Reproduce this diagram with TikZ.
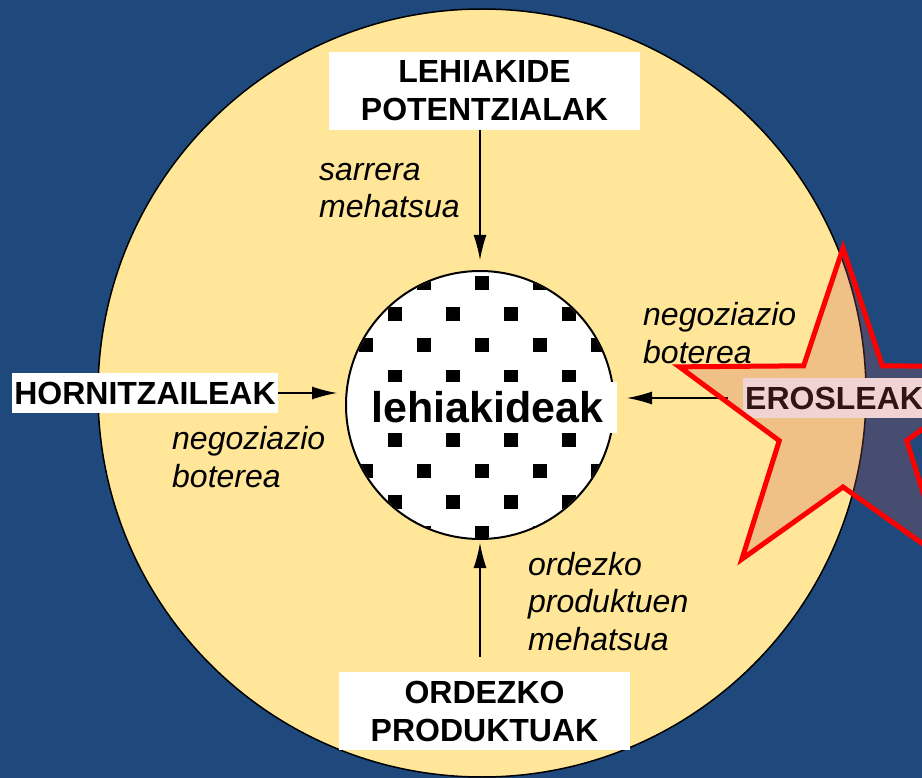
\documentclass[tikz,border=0pt]{standalone}
\usepackage{fontspec}
\setmainfont{Liberation Sans}
\usetikzlibrary{arrows.meta}
\definecolor{bgblue}{RGB}{31,73,125}
\definecolor{sand}{RGB}{255,230,153}
\definecolor{starfill}{RGB}{192,86,80}
\begin{document}
\begin{tikzpicture}[x=1pt,y=-1pt,
        labelbox/.style={fill=white,inner sep=0pt,align=center,font=\fontsize{32}{38}\selectfont\bfseries},
        forcetext/.style={anchor=base west,inner sep=0pt,align=left,font=\fontsize{32}{37.5}\selectfont\itshape},
        force/.style={line width=1.3pt,-{Latex[length=25pt,width=13pt]}}]
                \useasboundingbox (0,0) rectangle (922,778);
                \fill[bgblue] (0,0) rectangle (922,778);
                \draw[fill=sand,line width=1.5pt] (482,393) circle (384pt);
                % industry circle with dotted pattern
                \node[circle,draw,fill=white,line width=2pt,minimum size=268pt,inner sep=0pt] (industry) at (480,405) {};
                \begin{scope}
                    \clip (480,405) circle (133pt);
                    \foreach \a in {-5,...,5}
                        \foreach \b in {-3,...,3} {
                            \fill ({482+58*\a},{408+62.6*\b}) +(-7,-7) rectangle +(7,7);
                            \fill ({453+58*\a},{377+62.6*\b}) +(-7,-7) rectangle +(7,7);
                        }
                \end{scope}
                \node[labelbox,font=\fontsize{43}{50}\selectfont\bfseries,minimum width=259pt,minimum height=51pt] (rivals) at (487.5,407) {lehiakideak};
                % the four forces
                \node[labelbox,minimum width=311pt,minimum height=78pt] (entrants) at (484.5,91) {LEHIAKIDE\\POTENTZIALAK};
                \node[labelbox,minimum width=291pt,minimum height=78pt] (substitutes) at (484.5,711) {ORDEZKO\\PRODUKTUAK};
                \node[labelbox,minimum width=266pt,minimum height=40pt] (suppliers) at (145,393) {HORNITZAILEAK};
                \node[labelbox,anchor=west,align=left,text width=195pt,inner xsep=2pt,minimum height=40pt] (buyers) at (743,398) {EROSLEAK};
                \node[forcetext] (entrythreat) at (319,218) {sarrera\\mehatsua};
                \node[forcetext] (buyerpower) at (643,363) {negoziazio\\boterea};
                \node[forcetext] (supplierpower) at (172,487) {negoziazio\\boterea};
                \node[forcetext] (substthreat) at (528,650) {ordezko\\produktuen\\mehatsua};
                \draw[force,shorten >=10pt] (industry.north |- entrants.south) -- (industry.north);
                \draw[force,shorten >=8pt] (suppliers.east) -- (suppliers.east -| industry.west);
                \draw[force,shorten <=15pt,shorten >=12pt] (buyers.west) -- (buyers.west -| industry.east);
                \draw[force,shorten <=15pt,shorten >=3pt] (substitutes.north -| industry.south) -- (industry.south);
                % buyers star
                \draw[red,line width=5pt,fill=starfill,fill opacity=0.25] (843,420) +(270:172) -- +(306:67) -- +(342:172) -- +(18:67) -- +(54:172)
                    -- +(90:67) -- +(126:172) -- +(162:67) -- +(198:172) -- +(234:67) -- cycle;
            \end{tikzpicture}
\end{document}
